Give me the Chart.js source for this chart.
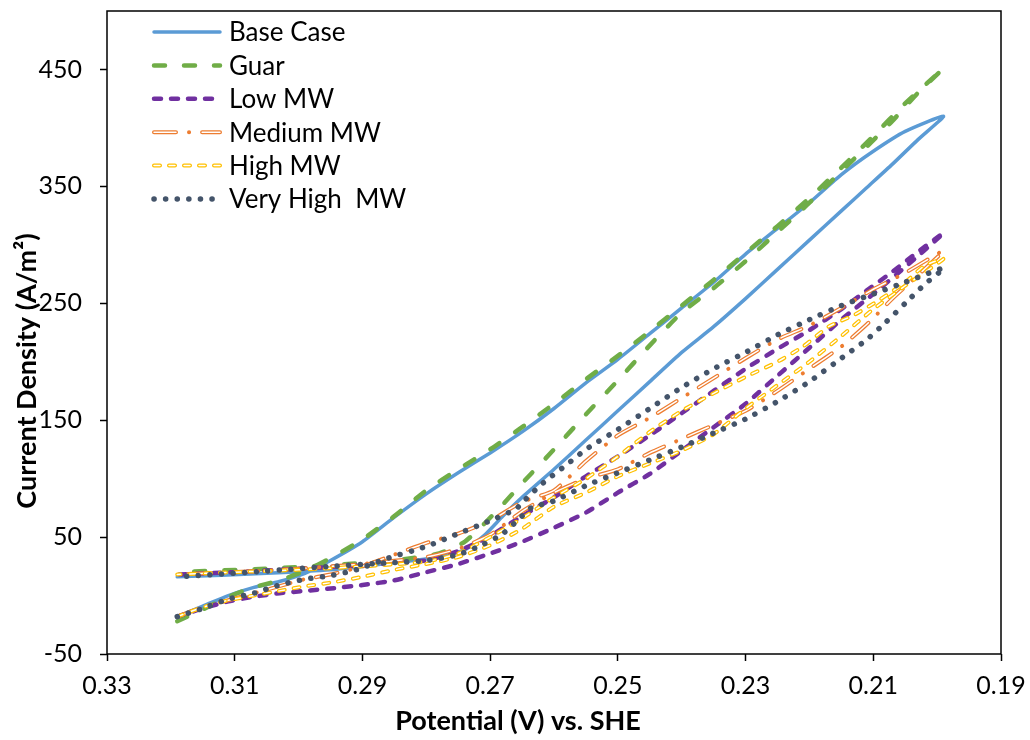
<!DOCTYPE html>
<html>
<head>
<meta charset="utf-8">
<script src="https://cdn.jsdelivr.net/npm/chart.js@4.4.1/dist/chart.umd.min.js"></script>
<style>
  html, body { margin: 0; padding: 0; background: #fff; }
  #wrap { width: 1030px; height: 740px; }
</style>
</head>
<body>
<div id="wrap"><canvas id="cv" width="1030" height="740"></canvas></div>
<script>
// ---- data (potential in V, current density in A/m2) ----
// each series: forward scan 0.319 -> 0.199, then back to 0.319

const baseV = [0.319,0.315,0.311,0.307,0.303,0.299,0.295,0.29,0.285,0.28,0.275,0.27,0.265,0.26,0.255,0.25,0.245,0.24,0.235,0.23,0.225,0.22,0.215,0.21,0.205,0.199,
               0.203,0.207,0.211,0.215,0.22,0.225,0.23,0.235,0.24,0.245,0.25,0.255,0.26,0.265,0.268,0.271,0.274,0.278,0.285,0.295,0.305,0.319];
const baseI = [-18,-9,0,7,12,19,30,46,67,87,105,122,140,160,182,202,224,246,268,292,314,336,360,380,397,410,
               390,369,349,329,304,279,254,230,208,183,158,133,108,84,68,51,39,33,28,22,19,16];

const guarV = [0.319,0.315,0.311,0.307,0.303,0.299,0.295,0.29,0.285,0.28,0.275,0.27,0.265,0.26,0.255,0.25,0.245,0.24,0.235,0.23,0.225,0.22,0.215,0.21,0.205,0.199,
               0.203,0.207,0.211,0.215,0.22,0.225,0.23,0.235,0.24,0.245,0.25,0.255,0.26,0.265,0.268,0.271,0.274,0.278,0.285,0.295,0.305,0.319];
const guarI = [-22,-12,-1,7,13,21,32,48,68,90,108,125,144,164,185,205,226,248,270,293,316,340,366,393,421,451,
               430,406,384,363,336,311,286,263,242,214,184,155,125,96,78,61,46,36,30,26,23,20];

const lowV = [0.319,0.315,0.311,0.307,0.303,0.299,0.295,0.29,0.285,0.28,0.275,0.27,0.265,0.26,0.255,0.25,0.245,0.24,0.235,0.23,0.225,0.22,0.215,0.21,0.205,0.199,
              0.203,0.207,0.211,0.215,0.22,0.225,0.23,0.235,0.24,0.245,0.25,0.255,0.26,0.265,0.27,0.275,0.28,0.29,0.3,0.31,0.319];
const lowI = [-18,-11,-5,-1,2,4,6,9,13,20,27,36,46,58,71,88,104,124,144,164,188,212,236,258,281,310,
              294,277,261,245,227,211,194,175,156,137,119,102,84,68,51,38,30,26,23,20,18];

const medV = [0.319,0.315,0.311,0.307,0.303,0.299,0.295,0.29,0.285,0.28,0.275,0.27,0.265,0.26,0.255,0.25,0.245,0.24,0.235,0.23,0.225,0.22,0.215,0.21,0.205,0.199,
              0.203,0.207,0.211,0.215,0.22,0.225,0.23,0.235,0.24,0.245,0.25,0.255,0.26,0.265,0.27,0.275,0.28,0.29,0.3,0.31,0.319];
const medI = [-18,-10,-4,2,8,14,18,25,35,45,53,64,80,90,115,137,152,169,186,203,219,231,246,262,276,295,
              274,254,232,213,194,175,158,146,134,122,108,100,88,72,52,40,33,27,23,20,18];

const highV = [0.319,0.315,0.311,0.307,0.303,0.299,0.295,0.29,0.285,0.28,0.275,0.27,0.265,0.26,0.255,0.25,0.245,0.24,0.235,0.23,0.225,0.22,0.215,0.21,0.205,0.199,
               0.202,0.205,0.209,0.213,0.217,0.221,0.225,0.23,0.235,0.24,0.245,0.25,0.255,0.26,0.265,0.27,0.275,0.28,0.29,0.3,0.31,0.319];
const highI = [-18,-10,-4,0,4,8,11,16,22,27,33,43,57,76,88,102,113,124,138,160,180,200,222,245,265,288,
               282,268,253,240,230,213,200,187,173,158,140,119,100,84,66,50,36,29,25,22,20,18];

const vhighV = [0.319,0.315,0.311,0.307,0.303,0.299,0.295,0.291,0.286,0.28,0.275,0.27,0.266,0.2645,0.262,0.258,0.255,0.25,0.245,0.24,0.235,0.23,0.225,0.22,0.215,0.21,0.205,0.199,
                0.202,0.205,0.208,0.211,0.215,0.22,0.225,0.23,0.235,0.24,0.245,0.25,0.255,0.26,0.2636,0.265,0.268,0.271,0.275,0.28,0.286,0.295,0.305,0.319];
const vhighI = [-18,-11,-3,2,9,14,17,22,32,42,53,64,74,82,95,112,125,142,160,178,194,208,223,236,248,258,268,280,
                266,250,234,219,203,183,166,151,139,127,116,105,94,81,75,68,53,44,35,30,28,25,21,16];

const seriesNames = ['Base Case', 'Guar', 'Low MW', 'Medium MW', 'High MW', 'Very High  MW'];
const xTicks = [0.33, 0.31, 0.29, 0.27, 0.25, 0.23, 0.21, 0.19];
const yTicks = [-50, 50, 150, 250, 350, 450];

// ---- styles ----
const FONT = 'Lato, "Open Sans", sans-serif';
const styles = [
  { color: '#5B9BD5', width: 3.5, dash: [] },
  { color: '#70AD47', width: 4.5, dash: [11, 19] },
  { color: '#7030A0', width: 4.5, dash: [7, 10] },
  { color: '#ED7D31', width: 4, dash: [22, 13, 0.1, 13], inner: [22, 26.1] },
  { color: '#FFC000', width: 4, dash: [6, 9], inner: [6, 9] },
  { color: '#44546A', width: 5.5, dash: [0.1, 11.5] }
];

function pts(xs, ys) {
  return xs.map(function(x, i) { return { x: x, y: ys[i] }; });
}

function lineSet(label, data, color, width, dash, order) {
  return {
    label: label,
    data: data,
    showLine: true,
    fill: false,
    borderColor: color,
    borderWidth: width,
    borderDash: dash,
    borderCapStyle: 'round',
    borderJoinStyle: 'round',
    pointRadius: 0,
    pointHoverRadius: 0,
    tension: 0.2,
    order: order
  };
}

const allData = [pts(baseV, baseI), pts(guarV, guarI), pts(lowV, lowI),
                 pts(medV, medI), pts(highV, highI), pts(vhighV, vhighI)];

// later series sit on top, like the original
const datasets = [];
allData.forEach(function(d, i) {
  const st = styles[i];
  const order = 20 - i * 2;
  datasets.push(lineSet(seriesNames[i], d, st.color, st.width, st.dash, order));
  if (st.inner) {
    // white core gives the hollow "double line" look
    datasets.push(lineSet(seriesNames[i] + ' core', d, '#ffffff', 1.5, st.inner, order - 1));
  }
});

function drawSample(ctx, st, x1, x2, y) {
  ctx.save();
  ctx.lineCap = 'round';
  ctx.strokeStyle = st.color;
  ctx.lineWidth = st.width;
  ctx.setLineDash(st.dash);
  ctx.beginPath(); ctx.moveTo(x1, y); ctx.lineTo(x2, y); ctx.stroke();
  if (st.inner) {
    ctx.strokeStyle = '#ffffff';
    ctx.lineWidth = 1.5;
    ctx.setLineDash(st.inner);
    ctx.beginPath(); ctx.moveTo(x1, y); ctx.lineTo(x2, y); ctx.stroke();
  }
  ctx.restore();
}

const extras = {
  id: 'extras',
  afterDraw: function(chart) {
    const ctx = chart.ctx;
    const a = chart.chartArea;
    ctx.save();
    // plot frame
    ctx.strokeStyle = '#000';
    ctx.lineWidth = 1.5;
    ctx.strokeRect(a.left, a.top, a.right - a.left, a.bottom - a.top);

    // legend inside the plot
    ctx.font = '26px ' + FONT;
    ctx.fillStyle = '#000';
    ctx.textAlign = 'left';
    ctx.textBaseline = 'middle';
    seriesNames.forEach(function(name, i) {
      const y = 32 + i * 33.4;
      drawSample(ctx, styles[i], 154, 220, y);
      ctx.fillText(name, 229, y + 1);
    });

    // axis titles (moved off-centre in the original)
    ctx.font = 'bold 27px ' + FONT;
    ctx.textAlign = 'center';
    ctx.fillText('Potential (V) vs. SHE', 518, 721);
    ctx.translate(27, 371);
    ctx.rotate(-Math.PI / 2);
    ctx.fillText('Current Density (A/m\u00B2)', 0, 0);
    ctx.restore();
  }
};

const tickGrid = {
  display: true,
  drawOnChartArea: false,
  drawTicks: true,
  tickLength: 7,
  tickColor: '#000',
  tickWidth: 1.5
};

new Chart(document.getElementById('cv'), {
  type: 'scatter',
  data: { datasets: datasets },
  options: {
    responsive: false,
    animation: false,
    layout: { padding: { left: 0, right: 29, top: 11, bottom: 0 } },
    plugins: {
      legend: { display: false },
      tooltip: { enabled: false }
    },
    scales: {
      x: {
        type: 'linear',
        reverse: true,
        min: 0.19,
        max: 0.33,
        afterFit: function(s) {
          s.height = 86;
          s.paddingLeft = 0; s.paddingRight = 0;
        },
        afterBuildTicks: function(s) { s.ticks = xTicks.map(function(v) { return { value: v }; }); },
        border: { display: false },
        grid: tickGrid,
        ticks: {
          color: '#000',
          font: { family: FONT, size: 25 },
          padding: 10,
          maxRotation: 0,
          autoSkip: false,
          callback: function(v) { return Number(v).toFixed(2); }
        }
      },
      y: {
        type: 'linear',
        min: -50,
        max: 500,
        afterFit: function(s) {
          s.width = 107;
          s.paddingTop = 0; s.paddingBottom = 0;
        },
        afterBuildTicks: function(s) { s.ticks = yTicks.map(function(v) { return { value: v }; }); },
        border: { display: false },
        grid: tickGrid,
        ticks: {
          color: '#000',
          font: { family: FONT, size: 25 },
          padding: 18,
          autoSkip: false
        }
      }
    }
  },
  plugins: [extras]
});
</script>
</body>
</html>
